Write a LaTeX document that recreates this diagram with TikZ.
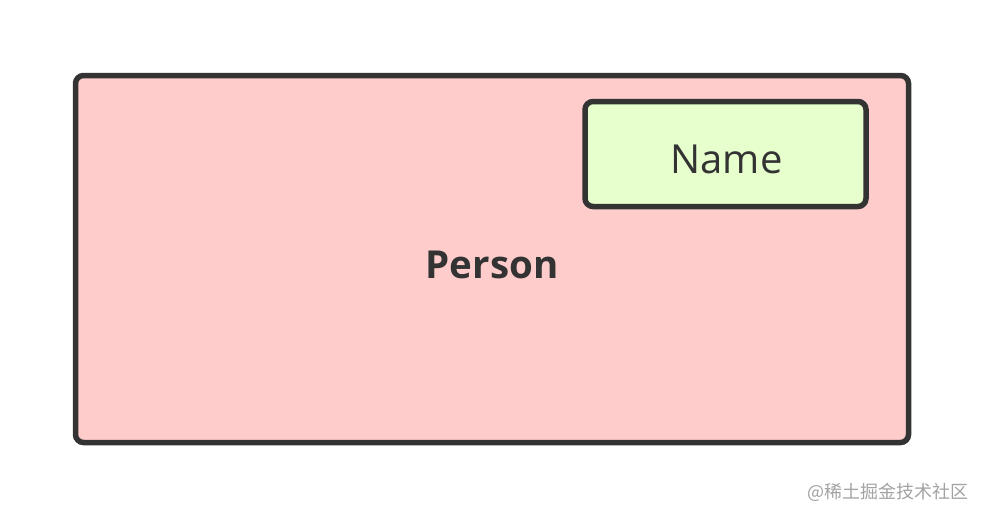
\documentclass[tikz,border=0pt]{standalone}
\usepackage{fontspec}
\setmainfont{Open Sans}
\newfontfamily\cjkfont{Noto Sans CJK SC}
\definecolor{strokegrey}{HTML}{333333}
\definecolor{personfill}{HTML}{FFCCCC}
\definecolor{namefill}{HTML}{E6FFCC}
\definecolor{markgrey}{HTML}{A3A3A3}
\tikzset{
  box/.style={draw=strokegrey,line width=5.5pt,rounded corners=8pt,inner sep=0pt},
  boxtext/.style={text=strokegrey,inner sep=0pt}
}

\begin{document}
\begin{tikzpicture}[x=1pt,y=-1pt]
  \useasboundingbox[fill=white] (0,0) rectangle (984,519);
  % outer class
  \node[box,fill=personfill,minimum width=833pt,minimum height=367pt] (person) at (492,259) {};
  \node[boxtext,font=\fontsize{38.5}{42}\selectfont\bfseries] (personlabel) at (492,264.5) {Person};
  % field
  \node[box,fill=namefill,minimum width=281pt,minimum height=105pt] (name) at (725.5,154) {};
  \node[boxtext,font=\fontsize{40}{44}\selectfont] (namelabel) at (726.5,159.5) {Name};
  % watermark
  \node[text=markgrey,inner sep=0pt,font=\cjkfont\fontsize{18}{20}\selectfont] (mark) at (888,492) {@稀土掘金技术社区};
\end{tikzpicture}
\end{document}
